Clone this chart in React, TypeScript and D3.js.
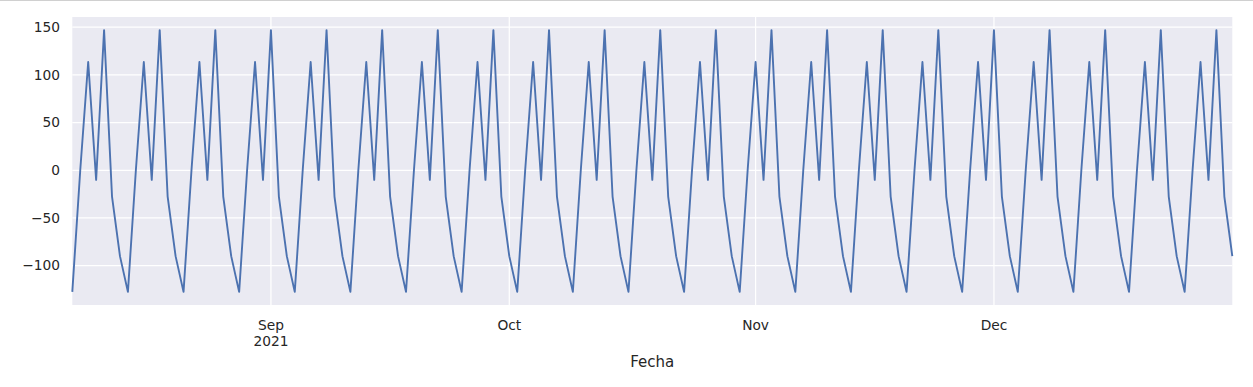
import React from "react";
import * as d3 from "d3";

const startDate = "2021-08-07";
const endDate = "2021-12-31";
// Daily values, one row per week (Sat..Fri)
const values: number[] = [
  -127.5, 0, 113.5, -10, 147, -27.5, -90,
  -127.5, 0, 113.5, -10, 147, -27.5, -90,
  -127.5, 0, 113.5, -10, 147, -27.5, -90,
  -127.5, 0, 113.5, -10, 147, -27.5, -90,
  -127.5, 0, 113.5, -10, 147, -27.5, -90,
  -127.5, 0, 113.5, -10, 147, -27.5, -90,
  -127.5, 0, 113.5, -10, 147, -27.5, -90,
  -127.5, 0, 113.5, -10, 147, -27.5, -90,
  -127.5, 0, 113.5, -10, 147, -27.5, -90,
  -127.5, 0, 113.5, -10, 147, -27.5, -90,
  -127.5, 0, 113.5, -10, 147, -27.5, -90,
  -127.5, 0, 113.5, -10, 147, -27.5, -90,
  -127.5, 0, 113.5, -10, 147, -27.5, -90,
  -127.5, 0, 113.5, -10, 147, -27.5, -90,
  -127.5, 0, 113.5, -10, 147, -27.5, -90,
  -127.5, 0, 113.5, -10, 147, -27.5, -90,
  -127.5, 0, 113.5, -10, 147, -27.5, -90,
  -127.5, 0, 113.5, -10, 147, -27.5, -90,
  -127.5, 0, 113.5, -10, 147, -27.5, -90,
  -127.5, 0, 113.5, -10, 147, -27.5, -90,
  -127.5, 0, 113.5, -10, 147, -27.5, -90,
];
const yTicks = [-100, -50, 0, 50, 100, 150];
const xTickDates = ["2021-09-01", "2021-10-01", "2021-11-01", "2021-12-01"];
const xTickLabels = [["Sep", "2021"], ["Oct"], ["Nov"], ["Dec"]];
const xLabel = "Fecha";

const parse = d3.utcParse("%Y-%m-%d");

export default function App() {
  const W = 1253, H = 387;
  const left = 72.3, right = 1232.3, top = 17, bottom = 305;
  const start = parse(startDate)!;
  const end = parse(endDate)!;
  const dates = d3.utcDay.range(start, d3.utcDay.offset(end, 1));
  const data = dates.map((d, i) => ({ d, v: values[i] }));
  const vmin = d3.min(values)!, vmax = d3.max(values)!;
  const pad = (vmax - vmin) * 0.05;
  const x = d3.scaleUtc().domain([start, end]).range([left, right]);
  const y = d3.scaleLinear().domain([vmin - pad, vmax + pad]).range([bottom, top]);
  const line = d3.line<{ d: Date; v: number }>().x((p) => x(p.d)).y((p) => y(p.v));
  const font = "'DejaVu Sans', sans-serif";
  const tc = "#262626";
  return (
    <svg width={W} height={H} style={{ position: "absolute", left: 0, top: 0, background: "#fff" }}>
      <line x1={0} x2={W} y1={0.5} y2={0.5} stroke="#d0d0d0" />
      <rect x={left} y={top} width={right - left} height={bottom - top} fill="#EAEAF2" />
      {yTicks.map((t) => (
        <line key={"gy" + t} x1={left} x2={right} y1={y(t)} y2={y(t)} stroke="#fff" strokeWidth={1.25} />
      ))}
      {xTickDates.map((t) => (
        <line key={"gx" + t} x1={x(parse(t)!)} x2={x(parse(t)!)} y1={top} y2={bottom} stroke="#fff" strokeWidth={1.25} />
      ))}
      <path d={line(data) || ""} fill="none" stroke="#4C72B0" strokeWidth={1.9} strokeLinejoin="round" />
      {yTicks.map((t) => (
        <text key={"ty" + t} x={60} y={y(t)} dy="0.35em" textAnchor="end" fontFamily={font} fontSize={13.75} fill={tc}>
          {d3.format("")(t).replace("-", "\u2212")}
        </text>
      ))}
      {xTickDates.map((t, i) => (
        <text key={"tx" + t} x={x(parse(t)!)} y={330} textAnchor="middle" fontFamily={font} fontSize={13.75} fill={tc}>
          {xTickLabels[i].map((s, j) => (
            <tspan key={j} x={x(parse(t)!)} dy={j === 0 ? 0 : 16}>{s}</tspan>
          ))}
        </text>
      ))}
      <text x={(left + right) / 2} y={367} textAnchor="middle" fontFamily={font} fontSize={15} fill={tc}>
        {xLabel}
      </text>
    </svg>
  );
}
